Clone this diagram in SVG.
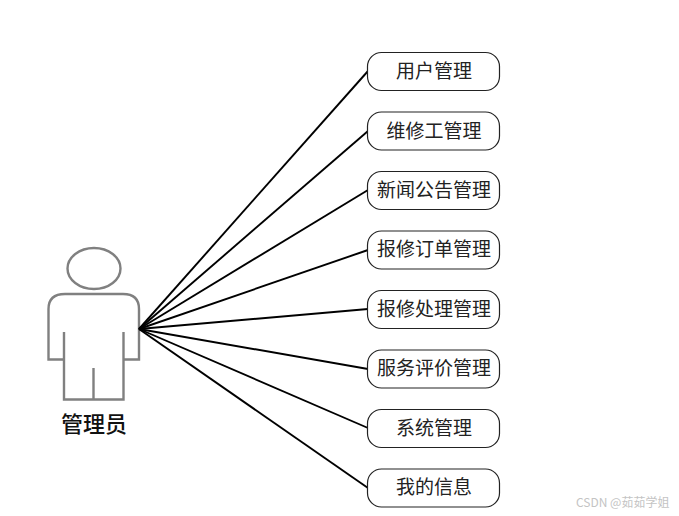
<svg xmlns="http://www.w3.org/2000/svg" width="679" height="516" viewBox="0 0 679 516">
<style>
.n{fill:#fff;stroke:#222;stroke-width:1.2}
.t{font-family:"Noto Sans CJK SC",serif;font-size:19px;text-anchor:middle;fill:#222}
.c line{stroke:#000;stroke-width:1.9}
.a{fill:none;stroke:#808080;stroke-width:2.4}
</style>
<rect width="679" height="516" fill="#fff"/>
<g id="actor">
<ellipse class="a" cx="94" cy="268.500" rx="26.500" ry="20.500"/>
<path class="a" d="M64 359.500H48.500V309Q48.500 294 65 294H123Q139 294 139 309V359.500H123.500"/>
<path class="a" d="M64 332V399.500H123.500V332M93.500 368V399.500"/>
<text x="94" y="432" style="font-family:'Noto Sans CJK SC',sans-serif;font-size:22px;font-weight:500;text-anchor:middle;fill:#111">管理员</text>
</g>
<g class="c">
<line x1="139" y1="329" x2="368" y2="71"/>
<line x1="139" y1="329" x2="368" y2="131"/>
<line x1="139" y1="329" x2="368" y2="190"/>
<line x1="139" y1="329" x2="368" y2="250"/>
<line x1="139" y1="329" x2="368" y2="309"/>
<line x1="139" y1="329" x2="368" y2="369"/>
<line x1="139" y1="329" x2="368" y2="428"/>
<line x1="139" y1="329" x2="368" y2="488"/>
</g>
<g id="n1"><rect class="n" x="367.500" y="52.500" width="132" height="38" rx="14"/><text class="t" x="434" y="78">用户管理</text></g>
<g id="n2"><rect class="n" x="367.500" y="112" width="132" height="38" rx="14"/><text class="t" x="434" y="138">维修工管理</text></g>
<g id="n3"><rect class="n" x="367.500" y="171.500" width="132" height="38" rx="14"/><text class="t" x="434" y="197">新闻公告管理</text></g>
<g id="n4"><rect class="n" x="367.500" y="231" width="132" height="38" rx="14"/><text class="t" x="434" y="256">报修订单管理</text></g>
<g id="n5"><rect class="n" x="367.500" y="290.500" width="132" height="38" rx="14"/><text class="t" x="434" y="316">报修处理管理</text></g>
<g id="n6"><rect class="n" x="367.500" y="350" width="132" height="38" rx="14"/><text class="t" x="434" y="375">服务评价管理</text></g>
<g id="n7"><rect class="n" x="367.500" y="409.500" width="132" height="38" rx="14"/><text class="t" x="434" y="435">系统管理</text></g>
<g id="n8"><rect class="n" x="367.500" y="469" width="132" height="38" rx="14"/><text class="t" x="434" y="494">我的信息</text></g>
<text x="576" y="507" style="font-family:'Noto Sans CJK SC',sans-serif;font-size:12px;fill:#c4c4c4">CSDN @茹茹学姐</text>
</svg>
